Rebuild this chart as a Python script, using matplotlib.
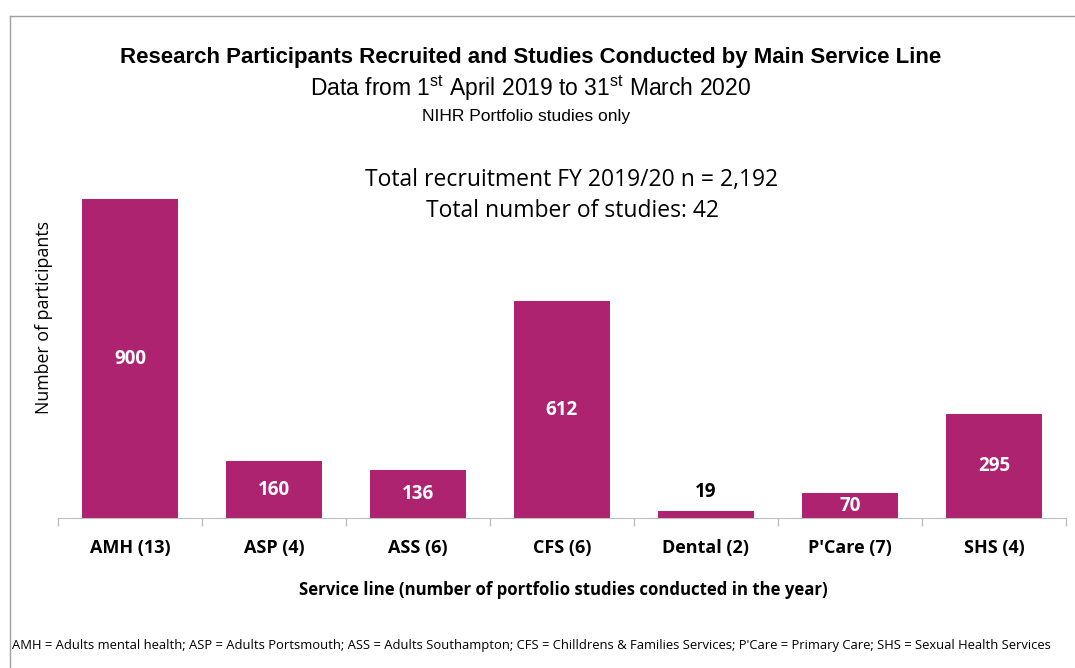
import numpy as np
import matplotlib
matplotlib.use("Agg")
import matplotlib.pyplot as plt
from matplotlib.lines import Line2D

# data
service_lines = ["AMH (13)", "ASP (4)", "ASS (6)", "CFS (6)", "Dental (2)", "P'Care (7)", "SHS (4)"]
participants = [900, 160, 136, 612, 19, 70, 295]
total_recruitment = "2,192"
total_studies = 42

BAR = "#AE2370"
AXIS = "#BFBFBF"
plt.rcParams["mathtext.fontset"] = "custom"
plt.rcParams["mathtext.rm"] = "Liberation Sans"
UI = "Open Sans"
TITLE = "Liberation Sans"

W, H = 1075, 668
fig = plt.figure(figsize=(W / 100, H / 100), dpi=100)


def px(x, y):
    return x / W, 1 - y / H


# frame around the picture (left and top edges only are visible)
fig.add_artist(Line2D([10 / W, 10 / W], [0, 1 - 16 / H], color="#A0A0A0", lw=1))
fig.add_artist(Line2D([10 / W, 1], [1 - 16 / H, 1 - 16 / H], color="#A0A0A0", lw=1))

ax = fig.add_axes([58 / W, 1 - 518 / H, 1008 / W, 354 / H])
x = np.arange(len(service_lines))
ax.bar(x, participants, width=0.667, color=BAR)
ax.set_xlim(-0.5, len(service_lines) - 0.5)
ax.set_ylim(0, 1000)

for s in ["top", "right", "left"]:
    ax.spines[s].set_visible(False)
ax.spines["bottom"].set_color(AXIS)
ax.set_yticks([])
ax.set_xticks(np.arange(-0.5, len(service_lines), 1), minor=True)
ax.tick_params(axis="x", which="minor", length=6, color=AXIS, width=1)
ax.set_xticks(x)
ax.set_xticklabels(service_lines, fontsize=13, fontweight="bold", family=UI)
ax.tick_params(axis="x", which="major", length=0, pad=15)

for xi, v in zip(x, participants):
    if v < 40:
        ax.text(xi, v + 55, str(v), ha="center", va="center", fontsize=13.5,
                fontweight="bold", family=UI, color="black")
    else:
        ax.text(xi, v / 2, str(v), ha="center", va="center", fontsize=13.5,
                fontweight="bold", family=UI, color="white")

fig.text(*px(44, 318), "Number of participants", rotation=90, ha="center", va="center",
         fontsize=12.8, family=UI)
fig.text(*px(563, 590), "Service line (number of portfolio studies conducted in the year)",
         ha="center", va="center", fontsize=12.1, fontweight="bold", family=UI)

fig.text(*px(531, 58), "Research Participants Recruited and Studies Conducted by Main Service Line",
         ha="center", va="center", fontsize=16, fontweight="bold", family=TITLE)
fig.text(*px(531, 88), r"Data from 1$^{\mathrm{st}}$ April 2019 to 31$^{\mathrm{st}}$ March 2020",
         ha="center", va="center", fontsize=16.5, family=TITLE)
fig.text(*px(526, 116), "NIHR Portfolio studies only", ha="center", va="center",
         fontsize=12.5, family=TITLE)

fig.text(*px(572, 180), f"Total recruitment FY 2019/20 n = {total_recruitment}",
         ha="center", va="center", fontsize=16.5, family=UI)
fig.text(*px(572, 211), f"Total number of studies: {total_studies}",
         ha="center", va="center", fontsize=16.5, family=UI)

fig.text(*px(12, 645), "AMH = Adults mental health; ASP = Adults Portsmouth; ASS = Adults Southampton; "
         "CFS = Chilldrens & Families Services; P'Care = Primary Care; SHS = Sexual Health Services",
         ha="left", va="center", fontsize=9.4, family=UI)

fig.savefig("out.png", dpi=100)
